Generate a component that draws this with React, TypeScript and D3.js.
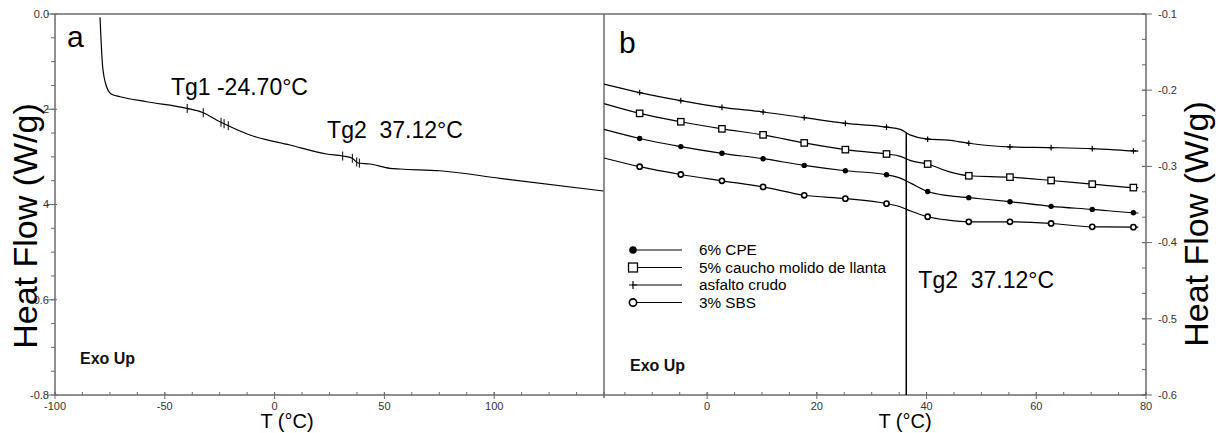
import * as d3 from 'd3'

const FONT = '"Liberation Sans", Arial, sans-serif'
const AXIS = '#6a6a6a'

// panel a: full DSC run
const tempA = [-79.5, -78.3, -76.5, -74.2, -70.4, -58.2, -40.0, -32.5, -24.9, -21.8, -11.2, 7.0, 23.7, 31.0, 35.4, 38.0, 43.4, 52.5, 57.1, 75.3, 102.6, 149.7]
const flowA = [-0.0069, -0.1107, -0.1527, -0.1686, -0.1737, -0.1842, -0.198, -0.2073, -0.2262, -0.2331, -0.2541, -0.2751, -0.294, -0.2982, -0.303, -0.3129, -0.315, -0.324, -0.3255, -0.3291, -0.345, -0.3717]
const tg1Ticks = [-39.8, -32.5, -24.4, -23.0, -21.1]
const tg2Ticks = [31.0, 35.4, 37.4, 38.6]
const xTicksA = [-100, -50, 0, 50, 100]
const yTicksA = [0, -0.2, -0.4, -0.6, -0.8]
const yTickLabelsA = ['0.0', '2', '4', '-0.6', '-0.8']

// panel b: zoom on the Tg2 region, four samples
const tempB = [-18.8, -12.3, -4.8, 2.7, 10.2, 17.7, 25.2, 32.7, 35.2, 37.1, 40.2, 43.9, 47.7, 55.2, 62.7, 70.2, 77.7, 78.6]
const markerTempsB = [-12.3, -4.8, 2.7, 10.2, 17.7, 25.2, 32.7, 40.2, 47.7, 55.2, 62.7, 70.2, 77.7]
const asfaltoCrudo = [-0.1921, -0.2031, -0.2137, -0.2225, -0.2286, -0.2361, -0.2436, -0.2485, -0.2515, -0.259, -0.2643, -0.2655, -0.2696, -0.2744, -0.2753, -0.2767, -0.2797, -0.28]
const caucho = [-0.2176, -0.2304, -0.2414, -0.2507, -0.2586, -0.2692, -0.278, -0.2837, -0.2868, -0.2925, -0.2969, -0.3066, -0.3123, -0.3141, -0.3185, -0.3233, -0.3278, -0.328]
const cpe = [-0.2515, -0.2634, -0.274, -0.2828, -0.2899, -0.2987, -0.3057, -0.311, -0.3154, -0.322, -0.333, -0.3383, -0.341, -0.3463, -0.3524, -0.3564, -0.3608, -0.3612]
const sbs = [-0.289, -0.3004, -0.3106, -0.3189, -0.3269, -0.3379, -0.3423, -0.3489, -0.3529, -0.3586, -0.3661, -0.3705, -0.3727, -0.3727, -0.3749, -0.3793, -0.3797, -0.3798]
const xTicksB = [0, 20, 40, 60, 80]
const yTicksB = [-0.1, -0.2, -0.3, -0.4, -0.5, -0.6]
const tg2LineT = 36.3

const seriesB = [
  { name: '6% CPE', values: cpe, kind: 'dot' },
  { name: '5% caucho molido de llanta', values: caucho, kind: 'square' },
  { name: 'asfalto crudo', values: asfaltoCrudo, kind: 'plus' },
  { name: '3% SBS', values: sbs, kind: 'ring' },
]

function Marker({ kind, x, y, s = 1 }: { kind: string; x: number; y: number; s?: number }) {
  if (kind === 'dot') return <circle cx={x} cy={y} r={2.7 * s} fill="#000" />
  if (kind === 'square') {
    const h = 3.2 * s
    return <rect x={x - h} y={y - h} width={2 * h} height={2 * h} fill="#fff" stroke="#000" strokeWidth={1.3} />
  }
  if (kind === 'plus') {
    const h = 2.8 * s
    return <path d={`M${x - h},${y}H${x + h}M${x},${y - h}V${y + h}`} stroke="#000" strokeWidth={1.2} />
  }
  return <circle cx={x} cy={y} r={2.6 * s} fill="#fff" stroke="#000" strokeWidth={1.6} />
}

export default function App() {
  const xA = d3.scaleLinear().domain([-100, 150]).range([55, 604])
  const yA = d3.scaleLinear().domain([0, -0.8]).range([14, 395])
  const xB = d3.scaleLinear().domain([-18.8, 80]).range([604, 1146])
  const yB = d3.scaleLinear().domain([-0.1, -0.6]).range([14, 395])
  const top = yA.range()[0]
  const bottom = yA.range()[1]

  const lineA = d3.line<number>().x((_, i) => xA(tempA[i])).y(d => yA(d)).curve(d3.curveMonotoneX)
  const lineB = d3.line<number>().x((_, i) => xB(tempB[i])).y(d => yB(d)).curve(d3.curveMonotoneX)
  const curveA = d3.scaleLinear().domain(tempA).range(flowA)

  const minorYA = d3.range(0, -0.8001, -0.05)
  const minorXA = d3.range(-100, 150.01, 12.5)
  const minorXB = d3.range(-15, 80.01, 5)
  const minorYB = d3.range(-0.1, -0.6001, -0.1 / 3)

  const lineTop = yB(d3.scaleLinear().domain(tempB).range(asfaltoCrudo)(tg2LineT))

  return (
    <svg width={1218} height={433} style={{ position: 'absolute', left: 0, top: 0, background: '#fff' }} fontFamily={FONT}>
      {/* frame */}
      <line x1={xA(-100)} x2={xB(80)} y1={top} y2={top} stroke={AXIS} strokeWidth={1.5} />
      <line x1={xA(-100)} x2={xA(-100)} y1={top} y2={bottom} stroke={AXIS} strokeWidth={1.5} />
      <line x1={xA(-100)} x2={xB(80)} y1={bottom} y2={bottom} stroke={AXIS} strokeWidth={1.5} />
      <line x1={xA(150)} x2={xA(150)} y1={top} y2={bottom + 3} stroke={AXIS} strokeWidth={1.5} />
      <line x1={xB(80)} x2={xB(80)} y1={top} y2={bottom} stroke={AXIS} strokeWidth={1.5} />

      {/* panel a axes */}
      {minorYA.map(v => (
        <line key={'mya' + v} x1={xA(-100) - 4} x2={xA(-100)} y1={yA(v)} y2={yA(v)} stroke={AXIS} />
      ))}
      {yTicksA.map((v, i) => (
        <g key={'ya' + v}>
          <line x1={xA(-100) - 8} x2={xA(-100) + 2} y1={yA(v)} y2={yA(v)} stroke={AXIS} />
          <text x={xA(-100) - 6} y={yA(v)} dy="0.35em" textAnchor="end" fontSize={11} fill="#333">{yTickLabelsA[i]}</text>
        </g>
      ))}
      {minorXA.map(v => (
        <line key={'mxa' + v} x1={xA(v)} x2={xA(v)} y1={bottom - 3} y2={bottom} stroke={AXIS} />
      ))}
      {xTicksA.map(v => (
        <g key={'xa' + v}>
          <line x1={xA(v)} x2={xA(v)} y1={bottom - 3} y2={bottom + 4} stroke={AXIS} />
          <text x={xA(v)} y={bottom + 15} textAnchor="middle" fontSize={11} fill="#333">{v}</text>
        </g>
      ))}

      {/* panel b axes */}
      {minorXB.map(v => (
        <line key={'mxb' + v} x1={xB(v)} x2={xB(v)} y1={bottom - 3} y2={bottom} stroke={AXIS} />
      ))}
      {xTicksB.map(v => (
        <g key={'xb' + v}>
          <line x1={xB(v)} x2={xB(v)} y1={bottom - 3} y2={bottom + 4} stroke={AXIS} />
          <text x={xB(v)} y={bottom + 15} textAnchor="middle" fontSize={11} fill="#333">{v}</text>
        </g>
      ))}
      {minorYB.map(v => (
        <line key={'myb' + v} x1={xB(80) - 4} x2={xB(80)} y1={yB(v)} y2={yB(v)} stroke={AXIS} />
      ))}
      {yTicksB.map(v => (
        <g key={'yb' + v}>
          <line x1={xB(80) - 4} x2={xB(80) + 6} y1={yB(v)} y2={yB(v)} stroke={AXIS} />
          <text x={xB(80) + 12} y={yB(v)} dy="0.35em" fontSize={11} fill="#333">{v.toFixed(1)}</text>
        </g>
      ))}

      {/* titles */}
      <text transform={`translate(37,226) rotate(-90)`} textAnchor="middle" fontSize={34}>Heat Flow (W/g)</text>
      <text transform={`translate(1208,224) rotate(-90)`} textAnchor="middle" fontSize={34}>Heat Flow (W/g)</text>
      <text x={287} y={428} textAnchor="middle" fontSize={20}>T (°C)</text>
      <text x={905} y={428} textAnchor="middle" fontSize={20}>T (°C)</text>

      {/* panel a */}
      <text x={67} y={47} fontSize={30}>a</text>
      <path d={lineA(flowA) ?? ''} fill="none" stroke="#000" strokeWidth={1.2} />
      {[...tg1Ticks, ...tg2Ticks].map(t => (
        <line key={'tk' + t} x1={xA(t)} x2={xA(t)} y1={yA(curveA(t)) - 4.5} y2={yA(curveA(t)) + 4.5} stroke="#000" strokeWidth={1} />
      ))}
      <text x={xA(-47.2)} y={yA(-0.17)} fontSize={23}>Tg1 -24.70°C</text>
      <text x={xA(23.9)} y={yA(-0.2604)} fontSize={23} style={{ whiteSpace: 'pre' }}>Tg2  37.12°C</text>
      <text x={80} y={364} fontSize={16} fontWeight="bold" fill="#111">Exo Up</text>

      {/* panel b */}
      <text x={619} y={53} fontSize={30}>b</text>
      <line x1={xB(tg2LineT)} x2={xB(tg2LineT)} y1={lineTop} y2={bottom} stroke="#000" strokeWidth={1.5} />
      {seriesB.map(s => (
        <g key={s.name}>
          <path d={lineB(s.values) ?? ''} fill="none" stroke="#000" strokeWidth={1.2} />
          {tempB.map((t, i) =>
            markerTempsB.includes(t) ? <Marker key={t} kind={s.kind} x={xB(t)} y={yB(s.values[i])} /> : null
          )}
        </g>
      ))}
      <text x={xB(38.5)} y={yB(-0.4595)} fontSize={23} style={{ whiteSpace: 'pre' }}>Tg2  37.12°C</text>
      <text x={630} y={371} fontSize={16} fontWeight="bold" fill="#111">Exo Up</text>

      {/* legend */}
      {seriesB.map((s, i) => {
        const y = 250 + i * 17.5
        return (
          <g key={'lg' + s.name}>
            <line x1={632} x2={682} y1={y} y2={y} stroke="#000" strokeWidth={1.2} />
            <Marker kind={s.kind} x={633} y={y} s={1.4} />
            <text x={699} y={y} dy="0.35em" fontSize={15.3}>{s.name}</text>
          </g>
        )
      })}
    </svg>
  )
}
